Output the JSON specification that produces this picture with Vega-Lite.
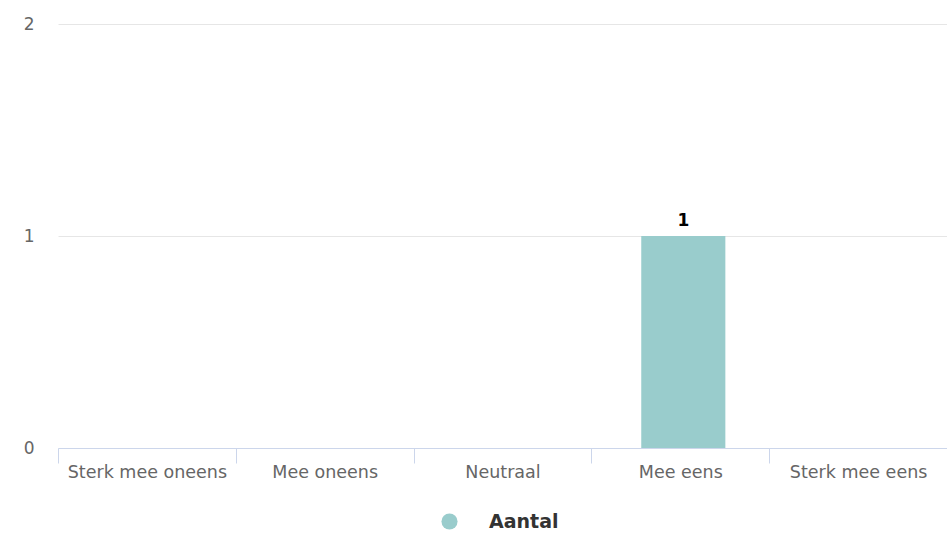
{
  "$schema": "https://vega.github.io/schema/vega-lite/v6.json",
  "width": 889,
  "height": 424,
  "autosize": "none",
  "padding": {"left": 58, "top": 24, "right": 0, "bottom": 85},
  "background": "#ffffff",
  "config": {
    "font": "DejaVu Sans",
    "view": {"stroke": null}
  },
  "data": {
    "values": [
      {"categorie": "Sterk mee oneens", "Aantal": 0},
      {"categorie": "Mee oneens", "Aantal": 0},
      {"categorie": "Neutraal", "Aantal": 0},
      {"categorie": "Mee eens", "Aantal": 1},
      {"categorie": "Sterk mee eens", "Aantal": 0}
    ]
  },
  "encoding": {
    "x": {
      "field": "categorie",
      "type": "nominal",
      "sort": null,
      "scale": {"paddingInner": 0, "paddingOuter": 0},
      "axis": {
        "title": null,
        "labelAngle": 0,
        "labelColor": "#666666",
        "labelFontSize": 17.5,
        "labelPadding": 0,
        "domainColor": "#ccd6eb",
        "tickColor": "#ccd6eb",
        "tickSize": 15,
        "tickBand": "extent",
        "grid": false
      }
    },
    "y": {
      "field": "Aantal",
      "type": "quantitative",
      "scale": {"domain": [0, 2], "nice": false},
      "axis": {
        "title": null,
        "tickCount": 2,
        "labelColor": "#666666",
        "labelFontSize": 17,
        "labelPadding": 24,
        "domain": false,
        "ticks": false,
        "gridColor": "#e6e6e6",
        "gridWidth": 1
      }
    }
  },
  "layer": [
    {
      "mark": {"type": "bar", "width": {"band": 0.473}, "xOffset": 3},
      "encoding": {
        "color": {
          "datum": "Aantal",
          "type": "nominal",
          "scale": {"range": ["#99cccc"]},
          "legend": {
            "title": null,
            "orient": "none",
            "legendX": 382,
            "legendY": 488,
            "symbolType": "circle",
            "symbolSize": 260,
            "symbolStrokeWidth": 0,
            "labelFontSize": 19,
            "labelFontWeight": "bold",
            "labelColor": "#333333",
            "labelOffset": 30
          }
        }
      }
    },
    {
      "transform": [{"filter": "datum.Aantal > 0"}],
      "mark": {"type": "text", "dy": -15, "dx": 3, "fontSize": 17, "fontWeight": "bold", "color": "#000000"},
      "encoding": {"text": {"field": "Aantal", "type": "quantitative"}}
    }
  ]
}
